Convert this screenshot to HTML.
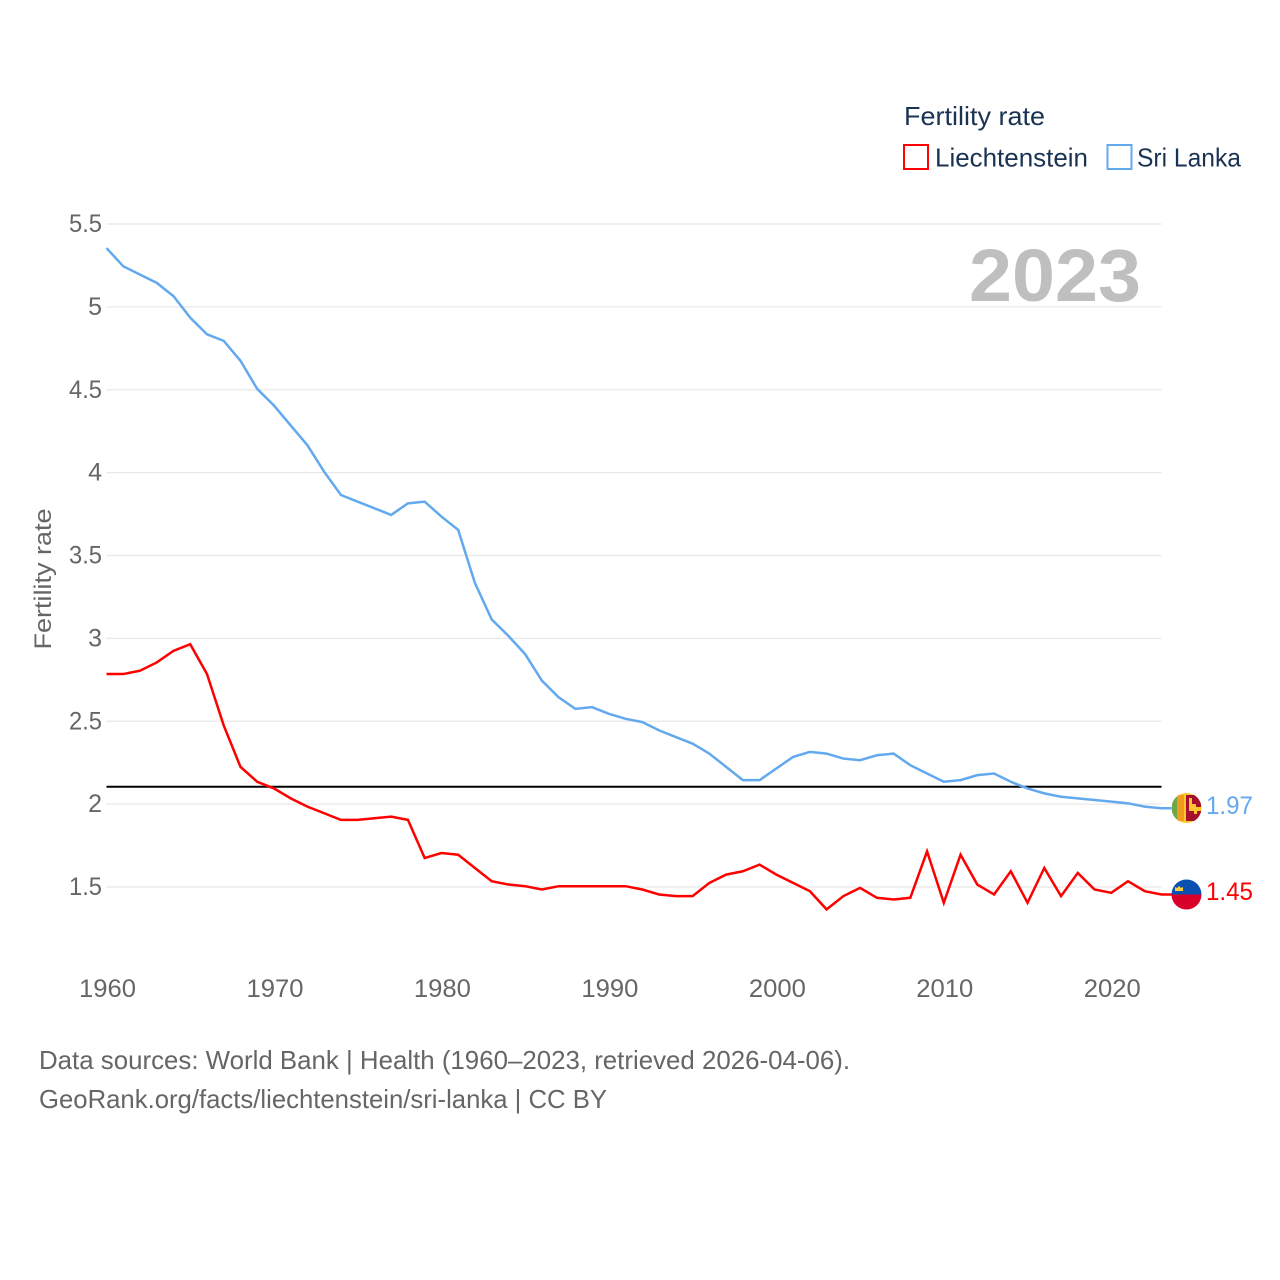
<!DOCTYPE html>
<html lang="en">
<head>
<meta charset="utf-8">
<title>Fertility rate: Liechtenstein and Sri Lanka</title>
<style>
html,body{margin:0;padding:0;background:#fff;width:1280px;height:1280px;overflow:hidden}
svg{display:block}
text{font-family:"Liberation Sans",sans-serif}
</style>
</head>
<body>
<svg id="chart" width="1280" height="1280" viewBox="0 0 1280 1280" xmlns="http://www.w3.org/2000/svg">
<rect width="1280" height="1280" fill="#fff"/>
<g id="grid"></g>
<g id="yticks"></g>
<g id="xticks"></g>
<text transform="translate(51,579) rotate(-90)" text-anchor="middle" font-size="24" fill="#666" textLength="141" lengthAdjust="spacingAndGlyphs">Fertility rate</text>
<text x="969" y="301" font-size="74" font-weight="bold" fill="#bfbfbf" textLength="172" lengthAdjust="spacingAndGlyphs">2023</text>
<line id="threshold" stroke="#000" stroke-width="2"/>
<path id="line-li" fill="none" stroke="#ff0000" stroke-width="2.5" stroke-linejoin="miter"/>
<path id="line-lk" fill="none" stroke="#63a9ef" stroke-width="2.5" stroke-linejoin="miter"/>

<text x="904" y="125" font-size="26" fill="#1a3353" textLength="141" lengthAdjust="spacingAndGlyphs">Fertility rate</text>
<g>
<rect x="904" y="145" width="24" height="24" fill="none" stroke="#ff0000" stroke-width="2"/>
<text x="935" y="166.500" font-size="26" fill="#1a3353" textLength="153" lengthAdjust="spacingAndGlyphs">Liechtenstein</text>
</g>
<g>
<rect x="1107.500" y="145" width="24" height="24" fill="none" stroke="#63a9ef" stroke-width="2"/>
<text x="1137" y="166.500" font-size="26" fill="#1a3353" textLength="104" lengthAdjust="spacingAndGlyphs">Sri Lanka</text>
</g>

<defs>
<clipPath id="clip-lk"><circle cx="1186.500" cy="808" r="15"/></clipPath>
<clipPath id="clip-li"><circle cx="1186.500" cy="894.500" r="15"/></clipPath>
</defs>
<g clip-path="url(#clip-lk)">
<rect x="1171" y="793" width="32" height="31" fill="#ffc72c"/>
<rect x="1172" y="795" width="6" height="26" fill="#6fa84a"/>
<rect x="1177" y="795" width="7" height="26" fill="#f09a1e"/>
<rect x="1186" y="795" width="15" height="26" fill="#a50f30"/>
<path d="M1189 798h3v6h4v3h5v4h-4v3h-3v-3h-5z" fill="#ffc72c"/>
</g>
<g clip-path="url(#clip-li)">
<rect x="1171" y="879" width="32" height="15.500" fill="#0a50b0"/>
<rect x="1171" y="894.500" width="32" height="16" fill="#d8002a"/>
<path d="M1175 891v-4l2 1 2-2 2 2 2-1v4z" fill="#ffcf40"/>
</g>
<text id="value-lk" x="1206" y="814" font-size="25" fill="#63a9ef" textLength="47" lengthAdjust="spacingAndGlyphs"></text>
<text id="value-li" x="1206" y="900" font-size="25" fill="#ff0000" textLength="47" lengthAdjust="spacingAndGlyphs"></text>

<text x="39" y="1069" font-size="26" fill="#666" textLength="811" lengthAdjust="spacingAndGlyphs">Data sources: World Bank | Health (1960–2023, retrieved 2026-04-06).</text>
<text x="39" y="1108" font-size="26" fill="#666" textLength="568" lengthAdjust="spacingAndGlyphs">GeoRank.org/facts/liechtenstein/sri-lanka | CC BY</text>
</svg>
<script>
const years = [1960,1961,1962,1963,1964,1965,1966,1967,1968,1969,1970,1971,1972,1973,1974,1975,1976,1977,1978,1979,1980,1981,1982,1983,1984,1985,1986,1987,1988,1989,1990,1991,1992,1993,1994,1995,1996,1997,1998,1999,2000,2001,2002,2003,2004,2005,2006,2007,2008,2009,2010,2011,2012,2013,2014,2015,2016,2017,2018,2019,2020,2021,2022,2023];
const sriLanka = [5.35,5.24,5.19,5.14,5.06,4.93,4.83,4.79,4.67,4.50,4.40,4.28,4.16,4.00,3.86,3.82,3.78,3.74,3.81,3.82,3.73,3.65,3.33,3.11,3.01,2.90,2.74,2.64,2.57,2.58,2.54,2.51,2.49,2.44,2.40,2.36,2.30,2.22,2.14,2.14,2.21,2.28,2.31,2.30,2.27,2.26,2.29,2.30,2.23,2.18,2.13,2.14,2.17,2.18,2.13,2.09,2.06,2.04,2.03,2.02,2.01,2.00,1.98,1.97];
const liechtenstein = [2.78,2.78,2.80,2.85,2.92,2.96,2.78,2.47,2.22,2.13,2.09,2.03,1.98,1.94,1.90,1.90,1.91,1.92,1.90,1.67,1.70,1.69,1.61,1.53,1.51,1.50,1.48,1.50,1.50,1.50,1.50,1.50,1.48,1.45,1.44,1.44,1.52,1.57,1.59,1.63,1.57,1.52,1.47,1.36,1.44,1.49,1.43,1.42,1.43,1.71,1.40,1.69,1.51,1.45,1.59,1.40,1.61,1.44,1.58,1.48,1.46,1.53,1.47,1.45];
const yTicks = [1.5,2,2.5,3,3.5,4,4.5,5,5.5];
const xTicks = [1960,1970,1980,1990,2000,2010,2020];
const replacementRate = [2.1];

const NS = 'http://www.w3.org/2000/svg';
const plotLeft = 106.5, plotRight = 1161.5;
function xScale(year){ return plotLeft + (year - 1960) * (plotRight - plotLeft) / 63; }
function yScale(v){ return 887 - (v - 1.5) * 165.75; }
function make(tag, attrs, parent){
  const el = document.createElementNS(NS, tag);
  for (const k in attrs) el.setAttribute(k, attrs[k]);
  parent.appendChild(el);
  return el;
}
const gridG = document.getElementById('grid');
const yG = document.getElementById('yticks');
const xG = document.getElementById('xticks');
yTicks.forEach(function(t){
  const gl = make('line', {x1:plotLeft, x2:plotRight, y1:yScale(t), y2:yScale(t), stroke:'#e8e8e8', 'stroke-width':1.2}, gridG);
  
  
  const lb = make('text', {x:102, y:yScale(t)+8, 'text-anchor':'end', 'font-size':25, fill:'#666'}, yG);
  
  
  if (String(t).length > 1) {
    lb.setAttribute('textLength', '33');
    lb.setAttribute('lengthAdjust', 'spacingAndGlyphs');
  }
  lb.textContent = String(t);
});
xTicks.forEach(function(t){
  const lb = make('text', {x:xScale(t)+1, y:997, 'text-anchor':'middle', 'font-size':25, fill:'#666', textLength:57, lengthAdjust:'spacingAndGlyphs'}, xG);
  
  
  lb.textContent = String(t);
});
const lineOffset = -0.8;
const th = document.getElementById('threshold');
th.setAttribute('x1', plotLeft);
th.setAttribute('x2', plotRight);
th.setAttribute('y1', yScale(replacementRate[0]) + lineOffset);
th.setAttribute('y2', yScale(replacementRate[0]) + lineOffset);
function linePath(values){
  let d = values.map(function(v,i){ return (i ? 'L' : 'M') + xScale(years[i]).toFixed(2) + ' ' + (yScale(v) + lineOffset).toFixed(2); }).join('');
  return d + 'h10';
}
document.getElementById('line-lk').setAttribute('d', linePath(sriLanka));
document.getElementById('line-li').setAttribute('d', linePath(liechtenstein));
document.getElementById('value-lk').textContent = sriLanka[sriLanka.length-1].toFixed(2);
document.getElementById('value-li').textContent = liechtenstein[liechtenstein.length-1].toFixed(2);
</script>
</body>
</html>
